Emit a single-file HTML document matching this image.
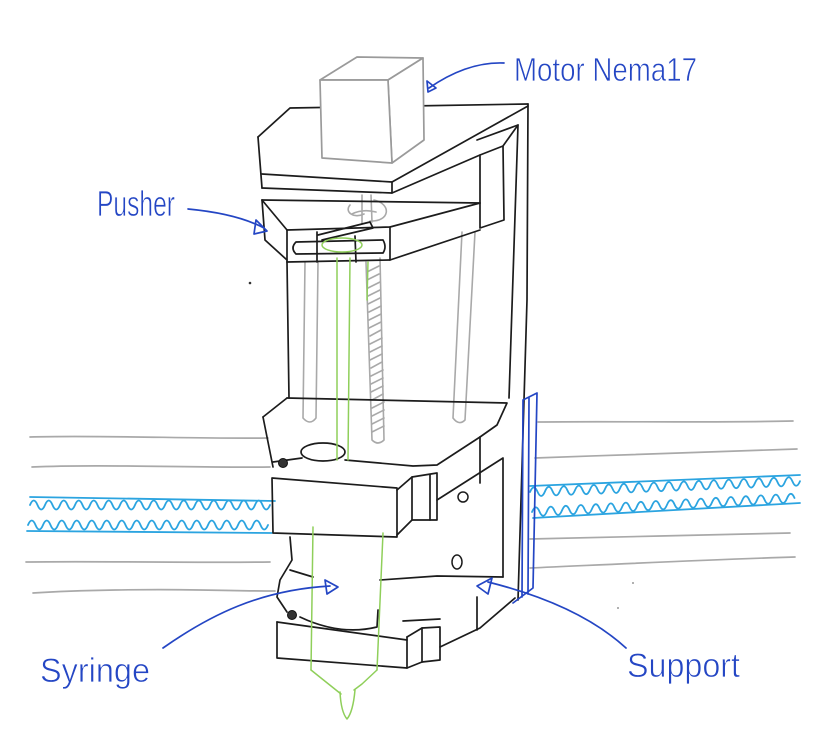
<!DOCTYPE html>
<html><head><meta charset="utf-8"><style>
html,body{margin:0;padding:0;background:#fff;}
svg{display:block;}
text{font-family:"Liberation Sans",sans-serif;fill:#2446c4;stroke:#fff;stroke-width:0.7;}
</style></head><body>
<svg width="832" height="754" viewBox="0 0 832 754" xmlns="http://www.w3.org/2000/svg">
<rect width="832" height="754" fill="#fff"/>
<g fill="none" stroke-linecap="round" stroke-linejoin="round">

<!-- gray background lines -->
<g stroke="#a9a9a9" stroke-width="1.7">
<path d="M30,437 C100,435 200,439 268,438"/>
<path d="M32,467 C100,464 200,468 270,467"/>
<path d="M26,562 C100,561 200,563 270,562"/>
<path d="M33,593 C80,590 150,589 200,590 S260,591 275,591"/>
<path d="M538,422 C620,421 700,423 793,421"/>
<path d="M535,458 C620,455 700,452 797,449"/>
<path d="M530,539 C620,537 700,535 790,533"/>
<path d="M530,568 C620,564 700,560 795,557"/>
</g>

<!-- blue belts -->
<g stroke="#2ba4e0" stroke-width="1.8">
<path d="M30,497 L275,501"/>
<path d="M30,505 q3.75,-9 7.5,0 t7.5,0 t7.5,0 t7.5,0 t7.5,0 t7.5,0 t7.5,0 t7.5,0 t7.5,0 t7.5,0 t7.5,0 t7.5,0 t7.5,0 t7.5,0 t7.5,0 t7.5,0 t7.5,0 t7.5,0 t7.5,0 t7.5,0 t7.5,0 t7.5,0 t7.5,0 t7.5,0 t7.5,0 t7.5,0 t7.5,0 t7.5,0 t7.5,0 t7.5,0 t7.5,0 t7.5,0"/>
<path d="M27,531 L272,533"/>
<path d="M28,525 q3.75,-9 7.5,0 t7.5,0 t7.5,0 t7.5,0 t7.5,0 t7.5,0 t7.5,0 t7.5,0 t7.5,0 t7.5,0 t7.5,0 t7.5,0 t7.5,0 t7.5,0 t7.5,0 t7.5,0 t7.5,0 t7.5,0 t7.5,0 t7.5,0 t7.5,0 t7.5,0 t7.5,0 t7.5,0 t7.5,0 t7.5,0 t7.5,0 t7.5,0 t7.5,0 t7.5,0 t7.5,0 t7.5,0"/>
<path d="M530,486 L800,475"/>
<path d="M530,492 q3.75,-9 7.5,-0.3 t7.5,-0.3 t7.5,-0.3 t7.5,-0.3 t7.5,-0.3 t7.5,-0.3 t7.5,-0.3 t7.5,-0.3 t7.5,-0.3 t7.5,-0.3 t7.5,-0.3 t7.5,-0.3 t7.5,-0.3 t7.5,-0.3 t7.5,-0.3 t7.5,-0.3 t7.5,-0.3 t7.5,-0.3 t7.5,-0.3 t7.5,-0.3 t7.5,-0.3 t7.5,-0.3 t7.5,-0.3 t7.5,-0.3 t7.5,-0.3 t7.5,-0.3 t7.5,-0.3 t7.5,-0.3 t7.5,-0.3 t7.5,-0.3 t7.5,-0.3 t7.5,-0.3 t7.5,-0.3 t7.5,-0.3 t7.5,-0.3 t7.5,-0.3"/>
<path d="M533,518 L800,503"/>
<path d="M532,512 q3.75,-9 7.5,-0.4 t7.5,-0.4 t7.5,-0.4 t7.5,-0.4 t7.5,-0.4 t7.5,-0.4 t7.5,-0.4 t7.5,-0.4 t7.5,-0.4 t7.5,-0.4 t7.5,-0.4 t7.5,-0.4 t7.5,-0.4 t7.5,-0.4 t7.5,-0.4 t7.5,-0.4 t7.5,-0.4 t7.5,-0.4 t7.5,-0.4 t7.5,-0.4 t7.5,-0.4 t7.5,-0.4 t7.5,-0.4 t7.5,-0.4 t7.5,-0.4 t7.5,-0.4 t7.5,-0.4 t7.5,-0.4 t7.5,-0.4 t7.5,-0.4 t7.5,-0.4 t7.5,-0.4 t7.5,-0.4 t7.5,-0.4 t7.5,-0.4"/>
</g>

<!-- gray rods, lead screw, coupling -->
<g stroke="#a9a9a9" stroke-width="1.6">
<path d="M305,262 L303,418 M318,262 L316,418 M303,418 Q310,426 316,418"/>
<path d="M462,232 L453,418 M475,232 L465,420 M453,418 Q459,426 465,420"/>
<path d="M366,262 L372,440 M380,258 L384,440 M372,440 Q378,446 384,440"/>
<path d="M367,272 L379,266 M367,280 L379,274 M368,288 L380,282 M368,296 L380,290 M368,304 L380,298 M369,312 L381,306 M369,320 L381,314 M369,328 L381,322 M370,336 L381,330 M370,344 L382,338 M370,352 L382,346 M370,360 L382,354 M371,368 L382,362 M371,376 L383,370 M371,384 L383,378 M371,392 L383,386 M372,400 L383,394 M372,408 L384,402 M372,416 L384,410 M372,424 L384,418 M372,432 L384,426"/>
<path d="M350,205 C344,212 354,219 364,214 M362,195 L362,224 M371,195 L372,222 M374,200 C392,204 390,222 370,221 M352,214 C360,210 368,210 376,212"/>
</g>

<!-- black structure -->
<g stroke="#1c1c1c" stroke-width="1.7">
<path d="M258,137 L290,108 L528,104"/>
<path d="M258,137 L262,188"/>
<path d="M262,174 L392,182 L528,106"/>
<path d="M262,188 L392,193 L392,182"/>
<path d="M392,193 L480,155"/>
<path d="M480,155 L503,146 L504,220 L480,228 Z"/>
<path d="M477,140 L518,125"/>
<path d="M528,104 L527,300 L518,600"/>
<path d="M503,146 L518,125 L509,398"/>
<path d="M262,200 L480,203"/>
<path d="M262,200 L287,230"/>
<path d="M262,200 L265,240 L287,260"/>
<path d="M287,230 L390,227 L480,203"/>
<path d="M287,230 L287,262"/>
<path d="M287,262 L390,260 L480,230"/>
<path d="M390,227 L390,260"/>
<path d="M296,242 L383,240 M296,254 L383,253 M296,242 Q290,248 296,254 M383,240 Q387,247 383,253"/>
<path d="M318,235 L370,222 L373,228 L322,240"/>
<path d="M317,232 L317,262 M355,236 L356,262"/>
<path d="M287,262 L289,398"/>
<path d="M287,398 L263,417"/>
<path d="M287,398 L507,403 L497,425 L480,437"/>
<path d="M263,417 L273,467"/>
<path d="M273,462 L302,458"/>
<ellipse cx="323" cy="452" rx="22" ry="9"/>
<path d="M345,460 L413,466 L437,465 L480,437"/>
<path d="M480,437 L480,483"/>
<path d="M437,500 L503,458 L503,577"/>
<path d="M272,478 L397,488 L397,537 L273,533 Z"/>
<path d="M397,490 L412,477 L437,473 L437,520 L412,520 L397,535"/>
<path d="M412,477 L412,520 M430,475 L430,520"/>
<path d="M290,537 L292,560 L280,580 L277,597 L287,612"/>
<path d="M290,570 L313,577"/>
<path d="M380,580 L437,576 L503,577"/>
<path d="M515,598 L480,628 L440,647"/>
<path d="M477,597 L477,630"/>
<path d="M300,617 Q340,636 377,627 L378,610"/>
<path d="M277,622 L313,627 L407,640"/>
<path d="M277,622 L277,658 L407,668 L407,637"/>
<path d="M407,637 L422,628 L440,627 L440,660 L422,662 L407,668"/>
<path d="M422,628 L422,662"/>
<path d="M403,621 L440,619"/>
</g>
<circle cx="283" cy="463" r="4.5" fill="#333" stroke="#111" stroke-width="1"/>
<circle cx="292" cy="615" r="4.5" fill="#333" stroke="#111" stroke-width="1"/>
<circle cx="463" cy="497" r="5" stroke="#1c1c1c" stroke-width="1.5"/>
<ellipse cx="457" cy="562" rx="5" ry="7" stroke="#1c1c1c" stroke-width="1.5"/>

<!-- motor -->
<g stroke="#9a9a9a" stroke-width="1.7" fill="#fff">
<path d="M320,80 L357,57 L423,58 L388,80 Z"/>
<path d="M388,80 L423,58 L424,140 L392,163 Z"/>
<path d="M320,80 L388,80 L392,163 L322,158 Z"/>
</g>

<!-- syringe -->
<g stroke="#8fcf5a" stroke-width="1.5">
<path d="M337,258 L337,460 M350,258 L348,460 M368,262 L367,300"/>
<ellipse cx="342" cy="245" rx="20" ry="7"/>
<path d="M313,527 L311,670 M383,533 L377,670"/>
<path d="M311,670 L336,690 L341,694 M377,670 L362,684 L354,690"/>
<path d="M340,692 Q341,712 347,719 Q353,712 355,690"/>
</g>

<!-- support (blue) -->
<g stroke="#2446c4" stroke-width="1.7">
<path d="M523,400 L537,393 M523,400 L522,597 M537,393 L533,588 L513,603 M529,398 L528,594"/>
</g>

<!-- label arrows -->
<g stroke="#2446c4" stroke-width="1.7">
<path d="M504,63 C480,62 455,70 429,88"/>
<path d="M427,81 L436,88 L428,92 Z"/>
<path d="M188,209 C220,212 245,218 264,228"/>
<path d="M256,220 L254,234 L267,231 Z"/>
<path d="M163,648 C210,615 260,590 330,586"/>
<path d="M325,580 L338,587 L327,594 Z"/>
<path d="M626,648 C590,615 540,595 488,582"/>
<path d="M477,586 L492,578 L488,594 Z"/>
</g>
</g>
<circle cx="250" cy="283" r="1.3" fill="#333"/>
<circle cx="618" cy="608" r="1" fill="#999"/>
<circle cx="633" cy="583" r="1" fill="#999"/>

<!-- labels -->
<text x="514" y="81" font-size="33" textLength="183" lengthAdjust="spacingAndGlyphs">Motor Nema17</text>
<text x="97" y="216" font-size="36" textLength="78" lengthAdjust="spacingAndGlyphs">Pusher</text>
<text x="40" y="682" font-size="34" textLength="110" lengthAdjust="spacingAndGlyphs">Syringe</text>
<text x="627" y="677" font-size="34" textLength="113" lengthAdjust="spacingAndGlyphs">Support</text>
</svg>
</body></html>
